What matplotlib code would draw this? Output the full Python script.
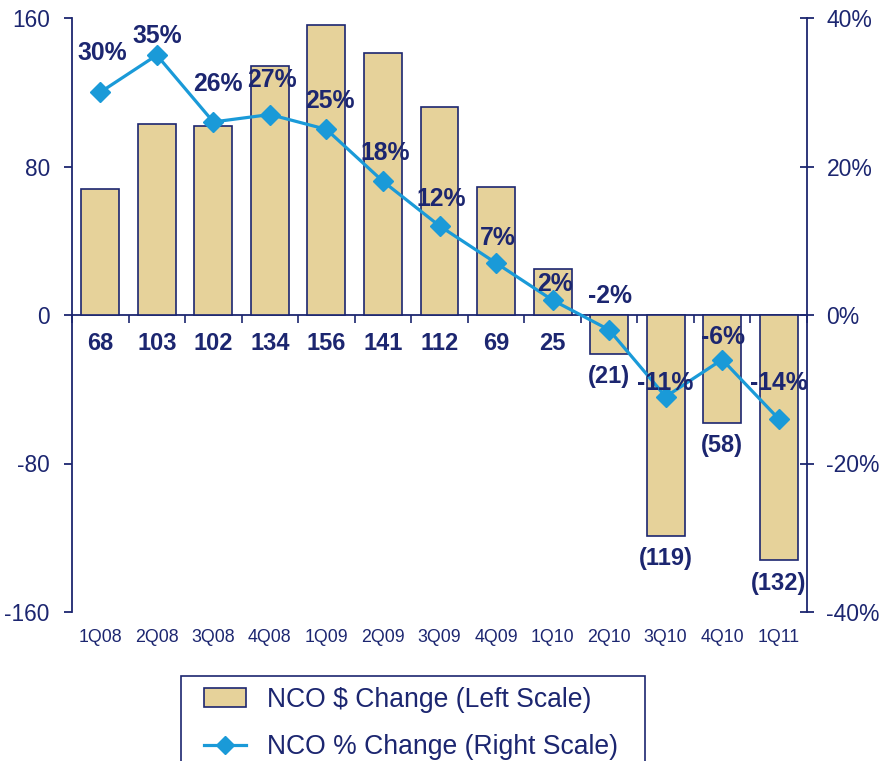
import numpy as np
import matplotlib.pyplot as plt
from matplotlib.lines import Line2D
from matplotlib.patches import Patch, Rectangle

# data
quarters = ['1Q08', '2Q08', '3Q08', '4Q08', '1Q09', '2Q09', '3Q09',
            '4Q09', '1Q10', '2Q10', '3Q10', '4Q10', '1Q11']
nco_change = [68, 103, 102, 134, 156, 141, 112, 69, 25, -21, -119, -58, -132]
nco_pct = [30, 35, 26, 27, 25, 18, 12, 7, 2, -2, -11, -6, -14]

# pixel offsets of the % labels above each point (layout only)
pct_offsets = [39, 19, 38, 35, 28, 28, 27, 25, 16, 34, 14, 23, 36]
pct_xshift = [2, 0, 5, 2, 3, 2, 2, 2, 2, 1, 0, 1, 0]

navy = '#1C2670'
tan = '#E6D29A'
blue = '#1A9AD8'

plt.rcParams['font.family'] = ['Liberation Sans', 'DejaVu Sans']

fig = plt.figure(figsize=(8.81, 7.61), dpi=100)
ax = fig.add_axes([72 / 881, 1 - 612 / 761, 735 / 881, 594 / 761])
ax2 = ax.twinx()

x = np.arange(len(quarters))
ax.bar(x, nco_change, width=0.67, color=tan, edgecolor=navy, linewidth=1.2, zorder=2)

ax.set_xlim(-0.5, len(quarters) - 0.5)
ax.set_ylim(-160, 160)
ax.set_yticks([-160, -80, 0, 80, 160])
ax.set_yticklabels(['-160', '-80', '0', '80', '160'])
ax.tick_params(axis='y', colors=navy, labelsize=16.3, length=6, width=1.3, direction='out', pad=10)

# x axis line sits at zero, category labels at the bottom
ax.spines['bottom'].set_position(('data', 0))
ax.spines['bottom'].set_color(navy)
ax.spines['bottom'].set_linewidth(1.3)
ax.spines['bottom'].set_zorder(1)
ax.set_xticks(np.arange(len(quarters) + 1) - 0.5)
ax.set_xticklabels([])
ax.tick_params(axis='x', colors=navy, length=6, width=1.2, direction='out')
for i, q in enumerate(quarters):
    ax.annotate(q, (i, 0), xycoords=('data', 'axes fraction'), xytext=(0, -25),
                textcoords='offset pixels', ha='center', va='center',
                fontsize=12.8, color=navy)

for s in ['top', 'right']:
    ax.spines[s].set_visible(False)
ax.spines['left'].set_color(navy)
ax.spines['left'].set_linewidth(1.3)

# bar value labels
for i, v in enumerate(nco_change):
    if v >= 0:
        txt, y, dy = str(v), 0, -28
    else:
        txt, y, dy = '(%d)' % -v, v, -23
    ax.annotate(txt, (i, y), xytext=(0, dy), textcoords='offset pixels',
                ha='center', va='center', fontsize=17, fontweight='bold', color=navy)

# right scale line
ax2.plot(x, nco_pct, color=blue, linewidth=2.3, marker='D', markersize=10,
         markeredgecolor=blue, zorder=3)
ax2.set_ylim(-40, 40)
ax2.set_yticks([-40, -20, 0, 20, 40])
ax2.set_yticklabels(['-40%', '-20%', '0%', '20%', '40%'])
ax2.tick_params(axis='y', colors=navy, labelsize=16.5, length=10, width=1.3,
                direction='inout', pad=9)
for s in ['top', 'left', 'bottom']:
    ax2.spines[s].set_visible(False)
ax2.spines['right'].set_color(navy)
ax2.spines['right'].set_linewidth(1.3)

for i, v in enumerate(nco_pct):
    ax2.annotate('%d%%' % v, (i, v), xytext=(pct_xshift[i], pct_offsets[i]),
                 textcoords='offset pixels', ha='center', va='center',
                 fontsize=17.8, fontweight='bold', color=navy)

# legend box runs off the bottom of the picture
fig.patches.append(Rectangle((181 / 881, -0.05), (645 - 181) / 881, 0.05 + 1 - 676 / 761,
                             transform=fig.transFigure, fill=False, edgecolor=navy,
                             linewidth=1.2))
handles = [Patch(facecolor=tan, edgecolor=navy, linewidth=1.2),
           Line2D([], [], color=blue, linewidth=2.3, marker='D', markersize=9)]
labels = ['NCO $ Change (Left Scale)', 'NCO % Change (Right Scale)']
leg = fig.legend(handles, labels, loc='upper left', bbox_to_anchor=(204 / 881, 1 - 687 / 761),
                 fontsize=19.1, frameon=False, borderpad=0, handlelength=1.6,
                 handleheight=0.72, labelspacing=0.8, handletextpad=0.78, borderaxespad=0)
for t in leg.get_texts():
    t.set_color(navy)

fig.savefig('out.png', dpi=100)
